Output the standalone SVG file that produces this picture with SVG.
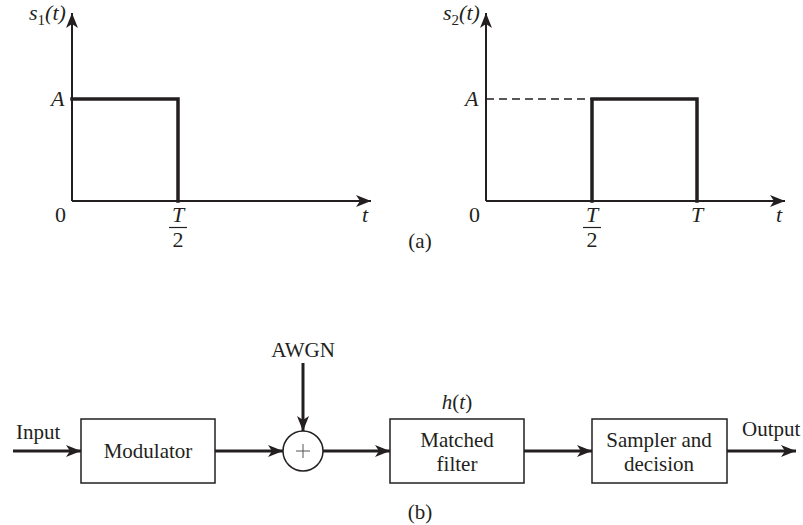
<svg xmlns="http://www.w3.org/2000/svg" width="803" height="525" viewBox="0 0 803 525">
<style>
text{font-family:"Liberation Serif","Times New Roman",serif;font-size:21px;fill:#231f20}
.p{font-size:22px}
.i{font-style:italic}
.axis{stroke:#231f20;stroke-width:2;fill:none}
.sig{stroke:#231f20;stroke-width:3.5;fill:none;stroke-linejoin:miter;stroke-linecap:square}
.box{stroke:#231f20;stroke-width:1.5;fill:#fff}
.wire{stroke:#231f20;stroke-width:3;fill:none}
.c{text-anchor:middle}
</style>
<defs>
<marker id="ah" markerUnits="userSpaceOnUse" markerWidth="16" markerHeight="14" refX="15" refY="6" orient="auto" viewBox="0 0 16 12">
<path d="M0,0 L15,6 L0,12 L4,6 z" fill="#231f20"/>
</marker>
</defs>
<!-- plot (a) left -->
<g id="plot1">
<line class="axis" x1="72" y1="201" x2="72" y2="13" marker-end="url(#ah)"/>
<line class="axis" x1="72" y1="201" x2="371" y2="201" marker-end="url(#ah)"/>
<polyline class="sig" points="72,99 178,99 178,201"/>
<text class="i p" x="29" y="20">s<tspan font-size="15" dy="5" font-style="normal">1</tspan><tspan dy="-5">(t)</tspan></text>
<text class="i p" x="51" y="106">A</text>
<text class="p" x="55" y="222">0</text>
<text class="i c p" x="178" y="222">T</text>
<line x1="169" y1="227.5" x2="187" y2="227.5" stroke="#231f20" stroke-width="1.2"/>
<text class="c p" x="178" y="247">2</text>
<text class="i p" x="362" y="222">t</text>
</g>
<!-- plot (a) right -->
<g id="plot2">
<line class="axis" x1="486" y1="201" x2="486" y2="13" marker-end="url(#ah)"/>
<line class="axis" x1="486" y1="201" x2="785" y2="201" marker-end="url(#ah)"/>
<line x1="486" y1="99" x2="592" y2="99" stroke="#231f20" stroke-width="1.5" stroke-dasharray="8,5"/>
<polyline class="sig" points="592,201 592,99 697,99 697,201"/>
<text class="i p" x="443" y="20">s<tspan font-size="15" dy="5" font-style="normal">2</tspan><tspan dy="-5">(t)</tspan></text>
<text class="i p" x="465" y="106">A</text>
<text class="p" x="469" y="222">0</text>
<text class="i c p" x="592" y="222">T</text>
<line x1="583" y1="227.5" x2="601" y2="227.5" stroke="#231f20" stroke-width="1.2"/>
<text class="c p" x="592" y="247">2</text>
<text class="i c p" x="697" y="222">T</text>
<text class="i p" x="776" y="222">t</text>
</g>
<text id="label-a" class="c" x="420" y="248">(a)</text>
<!-- block diagram (b) -->
<g id="modulator">
<rect class="box" x="81" y="419" width="134" height="64"/>
<text class="c" x="148" y="458">Modulator</text>
</g>
<g id="sum">
<circle cx="303" cy="451" r="20" stroke="#231f20" stroke-width="1.5" fill="#fff"/>
<line x1="303" y1="444" x2="303" y2="458" stroke="#555" stroke-width="1"/>
<line x1="296" y1="451" x2="310" y2="451" stroke="#555" stroke-width="1"/>
</g>
<g id="matched">
<rect class="box" x="390" y="419" width="134" height="64"/>
<text class="c" x="457" y="447">Matched</text>
<text class="c" x="457" y="471">filter</text>
<text class="c" x="457" y="409"><tspan class="i">h</tspan>(<tspan class="i">t</tspan>)</text>
</g>
<g id="sampler">
<rect class="box" x="592" y="419" width="135" height="64"/>
<text class="c" x="659" y="447">Sampler and</text>
<text class="c" x="659" y="471">decision</text>
</g>
<g id="io-labels">
<text x="16" y="439">Input</text>
<text class="c" x="303" y="357">AWGN</text>
<text x="742" y="436">Output</text>
</g>
<g id="connectors">
<line class="wire" x1="13" y1="451" x2="81" y2="451" marker-end="url(#ah)"/>
<line class="wire" x1="215" y1="451" x2="283" y2="451" marker-end="url(#ah)"/>
<line class="wire" x1="303" y1="363" x2="303" y2="431" marker-end="url(#ah)"/>
<line class="wire" x1="323" y1="451" x2="390" y2="451" marker-end="url(#ah)"/>
<line class="wire" x1="524" y1="451" x2="592" y2="451" marker-end="url(#ah)"/>
<line class="wire" x1="727" y1="451" x2="796" y2="451" marker-end="url(#ah)"/>
</g>
<text id="label-b" class="c" x="420" y="519">(b)</text>
</svg>
